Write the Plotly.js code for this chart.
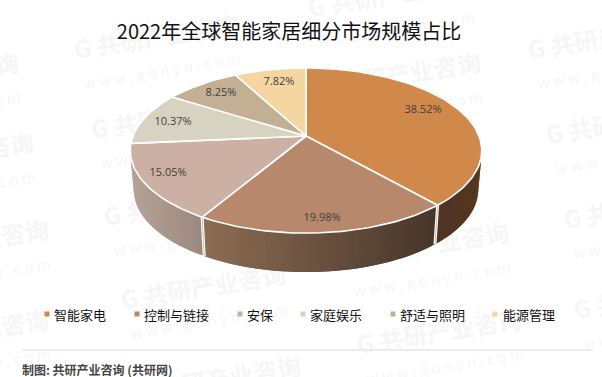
<!DOCTYPE html>
<html><head><meta charset="utf-8">
<script src="https://cdn.plot.ly/plotly-3.0.1.min.js"></script>
<style>html,body{margin:0;padding:0;background:#fff}
#bg,#fg{position:absolute;left:0;top:0;width:602px;height:377px}#fg{z-index:2}#bg{z-index:1}</style>
</head><body><div id="bg"></div><div id="fg"></div>
<script>
const categories=['智能家电','控制与链接','安保','家庭娱乐','舒适与照明','能源管理'];
const shares=[38.52,19.98,15.05,10.37,8.25,7.82];
const topColors=['#D0894B','#B7886B','#CCB0A3','#D8D3C0','#C3B094','#F5D6A0'];
const sideLeft=['#4E3324','#8D6D53','#B6A297',null,null,null];
const sideRight=['#56371E','#46352A','#9B887E',null,null,null];
const labelX=[423,322,168,173,221,279];
const labelY=[110,218,173,122,93,82];
const legendMarkX=[47,137,240,303,393,495];
const legendTextX=[52,142,245,308,398,501];
const titleText='2022年全球智能家居细分市场规模占比';
const sourceText='制图: 共研产业咨询 (共研网)';
const markTiles=[[73,50],[307,8],[527,50],[-132,168],[90,130],[315,88],[545,135],[-117,255],[103,217],[563,220],[343,258],[-117,345],[120,300],[356,345],[573,310],[135,392],[-147,88]];

const W=602,H=377,CJK='"Noto Sans CJK SC","Noto Sans",sans-serif';
const cx=306,cy=136,R=173,persp=-0.176,yScale=56.05,depth=39,shrink=0.98;
function proj(t,r){r=r===undefined?1:r;const a=t*Math.PI/180,u=r*Math.sin(a),v=-r*Math.cos(a),d=1+persp*v;
  return [cx+R*u/d,(yScale*v+cy)/d];}
function low(p){return [cx+(p[0]-cx)*shrink,p[1]+depth];}
function hex(c){return [1,3,5].map(i=>parseInt(c.substr(i,2),16));}
function mix(a,b,f){const A=hex(a),B=hex(b);return 'rgb('+A.map((v,i)=>Math.round(v+(B[i]-v)*f)).join(',')+')';}
const total=shares.reduce((a,b)=>a+b,0);
const bounds=[0];shares.forEach(s=>bounds.push(bounds[bounds.length-1]+s/total*360));
const traces=[];
function poly(pts,fill,lineColor,lw){traces.push({type:'scatter',mode:'lines',x:pts.map(p=>p[0]),y:pts.map(p=>p[1]),
  fill:'toself',fillcolor:fill,line:{color:lineColor,width:lw},hoverinfo:'skip',showlegend:false});}
// visible wall: overlapping strips so no seams show
const wallA=100,wallB=260;
shares.forEach((s,i)=>{
  const a=Math.max(bounds[i],wallA),b=Math.min(bounds[i+1],wallB);
  if(b<=a||!sideLeft[i])return;
  const pA=proj(a)[0],pB=proj(b)[0],xL=Math.min(pA,pB),xR=Math.max(pA,pB);
  const n=Math.ceil((b-a)/1.5);
  for(let k=0;k<n;k++){
    const t0=a+(b-a)*k/n,t1=a+(b-a)*(k+1)/n,t2=Math.min(t1+1.5,b);
    const p0=proj(t0),p1=proj(t1),f=(((p0[0]+p1[0])/2)-xL)/(xR-xL);
    const c=mix(sideLeft[i],sideRight[i],f);
    const seg=[];for(let j=0;j<=4;j++)seg.push(proj(t0+(t2-t0)*j/4));
    poly(seg.concat(seg.slice().reverse().map(low)).concat([seg[0]]),c,c,0);
  }
});
// wall dividers
[bounds[1],bounds[2]].forEach(t=>{const p=proj(t),q=low(p);
  [['#ffffff',3],['#c6c0ba',1]].forEach(st=>traces.push({type:'scatter',mode:'lines',x:[p[0],q[0]],y:[p[1],q[1]],
    line:{color:st[0],width:st[1]},hoverinfo:'skip',showlegend:false}));});
// top face
shares.forEach((s,i)=>{const pts=[[cx,cy]],a=bounds[i],b=bounds[i+1],n=Math.ceil((b-a)/1.5);
  for(let k=0;k<=n;k++)pts.push(proj(a+(b-a)*k/n));pts.push([cx,cy]);
  poly(pts,topColors[i],'#ffffff',1.6);});
// value labels
traces.push({type:'scatter',mode:'text',x:labelX,y:labelY,text:shares.map(v=>v.toFixed(2)+'%'),textposition:'middle center',
  textfont:{family:'"Open Sans","Noto Sans",sans-serif',size:11,color:'#404040'},hoverinfo:'skip',showlegend:false});
// legend marks
traces.push({type:'scatter',mode:'markers',x:legendMarkX,y:legendMarkX.map(()=>314),
  marker:{symbol:'square',size:5,color:topColors,line:{width:0}},hoverinfo:'skip',showlegend:false});
// footer rule
traces.push({type:'scatter',mode:'lines',x:[22,593],y:[350,350],line:{color:'#ececec',width:2},hoverinfo:'skip',showlegend:false});

const hiddenAxis=r=>({range:r,visible:false,fixedrange:true});
const annotations=categories.map((c,i)=>({text:c,x:legendTextX[i],y:314.5,xref:'x',yref:'y',xanchor:'left',yanchor:'middle',showarrow:false,
  font:{family:CJK,size:13,color:'#111111'}}));
annotations.push({text:sourceText,x:20,y:369,xref:'x',yref:'y',xanchor:'left',yanchor:'middle',showarrow:false,
  font:{family:CJK,size:12,color:'#444444',weight:700}});
Plotly.newPlot('fg',traces,{width:W,height:H,margin:{l:0,r:0,t:0,b:0},paper_bgcolor:'rgba(0,0,0,0)',plot_bgcolor:'rgba(0,0,0,0)',
  showlegend:false,xaxis:hiddenAxis([0,W]),yaxis:hiddenAxis([H,0]),annotations,
  title:{text:titleText,x:289/W,xanchor:'center',y:1-32/H,yanchor:'middle',font:{family:CJK,size:20,color:'#111111'}}},{staticPlot:true,displayModeBar:false});

const markAnn=markTiles.map(p=>({xref:'paper',yref:'paper',x:(p[0]+85)/W,y:1-(p[1]-1)/H,xanchor:'center',yanchor:'middle',showarrow:false,textangle:-9,
  text:'<b>G 共研产业咨询</b><br><span style="font-size:15px">w w w . g o n y n . c o m</span>',
  font:{family:CJK,size:24,color:'#f6f6f6'}}));
Plotly.newPlot('bg',[],{width:W,height:H,margin:{l:0,r:0,t:0,b:0},paper_bgcolor:'#ffffff',plot_bgcolor:'#ffffff',
  xaxis:{visible:false},yaxis:{visible:false},annotations:markAnn},{staticPlot:true,displayModeBar:false});
</script></body></html>
